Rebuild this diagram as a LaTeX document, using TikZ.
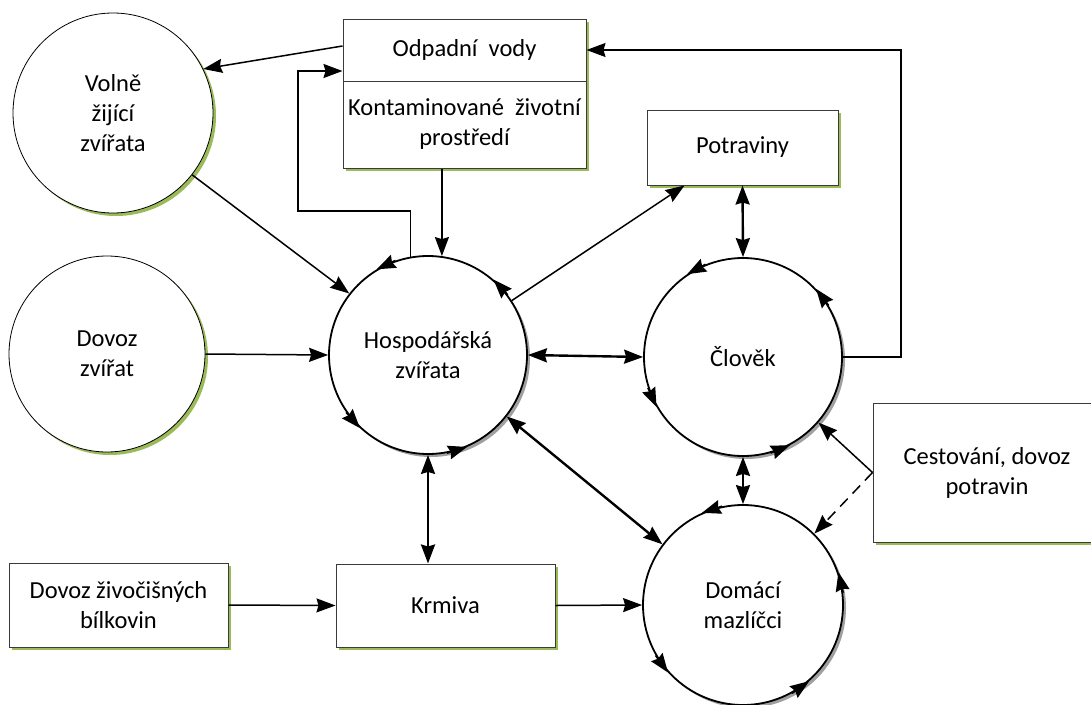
\documentclass[tikz,border=0pt]{standalone}
\usepackage{fontspec}
\setmainfont{Carlito}
\usepackage{tikz}
\usetikzlibrary{positioning,arrows.meta,shadows}
\definecolor{shadowGreen}{HTML}{9BBB59}
\definecolor{shadowGray}{HTML}{A0A0A0}
\definecolor{boxBorder}{HTML}{3A3A3A}

\begin{document}
\begin{tikzpicture}[x=1pt, y=-1pt,
  every node/.style={font=\fontsize{24.5}{30}\selectfont, align=center},
  box/.style={draw=boxBorder, line width=1pt, fill=white, inner sep=2pt,
    drop shadow={shadow xshift=3pt, shadow yshift=-3pt, fill=shadowGreen, opacity=1}},
  src/.style={circle, draw, line width=0.8pt, fill=white, inner sep=0pt,
    drop shadow={shadow xshift=3pt, shadow yshift=-3pt, fill=shadowGreen, opacity=1}},
  hub/.style={circle, draw, line width=1.8pt, fill=white, inner sep=0pt,
    drop shadow={shadow xshift=3pt, shadow yshift=-3pt, fill=shadowGray, opacity=1}},
  turn/.style={line width=1.8pt, -{Stealth[length=19pt,width=14pt,inset=2pt]}},
  flow/.style={line width=1.5pt, -{Stealth[length=19pt,width=14pt,inset=2pt]}},
  both/.style={line width=2.4pt,
    {Stealth[length=19pt,width=14pt,inset=2pt]}-{Stealth[length=19pt,width=14pt,inset=2pt]}}]

  \clip (0,0) rectangle (1091,704);

  % sources on the left
  \node[src, minimum size=200pt] (volne) at (113,113) {Volně\\žijící\\zvířata};
  \node[src, minimum size=196pt] (dovozzv) at (107,354) {Dovoz\\zvířat};

  % main cycles
  \node[hub, minimum size=198pt] (hosp) at (428,355) {Hospodářská\\zvířata};
  \node[hub, minimum size=198pt] (clovek) at (743,357) {Člověk};
  \node[hub, minimum size=200pt] (domaci) at (743,605) {Domácí\\mazlíčci};

  % arrows running round the cycles
  \foreach \a in {121,49,227,293} {
    \pgfmathtruncatemacro\b{\a-12}
    \draw[turn] (hosp.\b) -- (hosp.\a);
  }
  \foreach \a in {124,43,210,298} {
    \pgfmathtruncatemacro\b{\a-12}
    \draw[turn] (clovek.\b) -- (clovek.\a);
  }
  \foreach \a in {114,19,222,311} {
    \pgfmathtruncatemacro\b{\a-12}
    \draw[turn] (domaci.\b) -- (domaci.\a);
  }

  % boxes
  \node[box, minimum width=243pt, minimum height=62pt] (odpad) at (464.5,50) {Odpadní~~vody};
  \node[box, minimum width=243pt, minimum height=87pt] (kontam) at (464.5,124.5) {Kontaminované~~životní\\prostředí};
  \node[box, minimum width=191pt, minimum height=75pt] (potrav) at (742.5,147.5) {Potraviny};
  \node[box, minimum width=228pt, minimum height=139pt] (cestov) at (987,472.5) {Cestování, dovoz\\potravin};
  \node[box, minimum width=219pt, minimum height=84pt] (dovozbil) at (118.5,605) {Dovoz živočišných\\bílkovin};
  \node[box, minimum width=219pt, minimum height=83pt] (krmiva) at (445.5,605.5) {Krmiva};

  \coordinate (lcorner) at (298,211);
  \coordinate (rcorner) at (901,50);

  % waste water loops
  \draw[flow] ([yshift=4pt]odpad.west) -- (volne.26);
  \draw[flow] (hosp.100) |- (lcorner) |- ([yshift=-21pt]odpad.west);
  \draw[flow] (hosp.82 |- kontam.south) -- (hosp.82);
  \draw[flow] (clovek.east) -| (rcorner) -- (odpad.east);

  % inputs
  \draw[flow] (volne.-38) -- (hosp.142);
  \draw[flow] (dovozzv.east) -- (hosp.west);
  \draw[flow] (hosp.33) -- ([xshift=38pt]potrav.south west);
  \draw[flow] (dovozbil.east) -- (krmiva.west);
  \draw[flow] (krmiva.east) -- (domaci.west);
  \draw[flow] (cestov.west) -- (clovek.-41);
  \draw[flow, dash pattern=on 11pt off 7pt] (cestov.west) -- (domaci.45);

  % two-way links
  \draw[both] (potrav.south) -- (clovek.north);
  \draw[both] (hosp.east) -- (clovek.west);
  \draw[both] (hosp.-38) -- (domaci.143);
  \draw[both] (hosp.south) -- (hosp.south |- krmiva.north);
  \draw[both] (clovek.south) -- (domaci.north);
\end{tikzpicture}
\end{document}
